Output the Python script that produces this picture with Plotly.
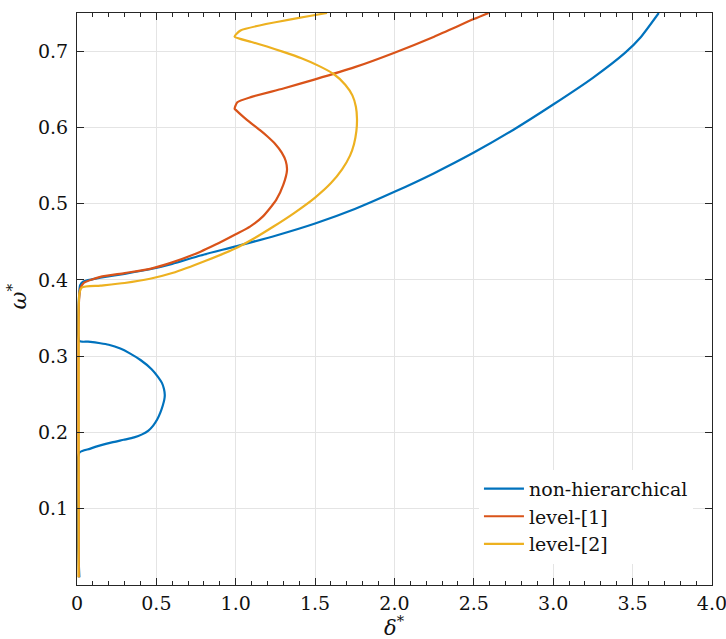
import plotly.graph_objects as go

# ---- data ----
blue_delta = [0.015, 0.015, 0.08, 0.147, 0.22, 0.294, 0.36, 0.41, 0.45, 0.48, 0.505, 0.525,
              0.54, 0.55, 0.553, 0.548, 0.535, 0.51, 0.47, 0.40, 0.33, 0.273, 0.2, 0.147, 0.07,
              0.015, 0.015, 0.02, 0.04, 0.1, 0.147, 0.3, 0.46, 0.6, 0.778, 1.0, 1.25, 1.5,
              1.75, 2.0, 2.25, 2.5, 2.75, 3.0, 3.25, 3.454, 3.55, 3.665]
blue_omega = [0.01, 0.1735, 0.1785, 0.183, 0.187, 0.1904, 0.1935, 0.1975, 0.2025, 0.209, 0.217,
              0.226, 0.235, 0.243, 0.249, 0.257, 0.265, 0.273, 0.283, 0.295, 0.304, 0.310, 0.315,
              0.317, 0.319, 0.320, 0.385, 0.393, 0.398, 0.401, 0.403, 0.408, 0.414, 0.421, 0.432,
              0.444, 0.458, 0.474, 0.493, 0.5155, 0.540, 0.567, 0.597, 0.630, 0.665, 0.698, 0.718,
              0.75]

orange_delta = [0.012, 0.012, 0.02, 0.042, 0.1, 0.147, 0.3, 0.46, 0.6, 0.778, 0.87, 1.0,
                1.09, 1.17, 1.255, 1.30, 1.323, 1.315, 1.29, 1.25, 1.2, 1.155, 1.1, 1.05, 1.0,
                0.993, 1.01, 1.10, 1.3, 1.5, 1.75, 2.0, 2.25, 2.5, 2.593]
orange_omega = [0.01, 0.37, 0.388, 0.396, 0.401, 0.404, 0.409, 0.4145, 0.423, 0.437, 0.446,
                0.460, 0.470, 0.483, 0.505, 0.525, 0.544, 0.556, 0.567, 0.578, 0.588, 0.596,
                0.605, 0.6135, 0.623, 0.6245, 0.633, 0.640, 0.651, 0.663, 0.679, 0.698, 0.719,
                0.742, 0.75]

yellow_delta = [0.01, 0.01, 0.015, 0.03, 0.147, 0.3, 0.46, 0.6, 0.815, 1.0, 1.12, 1.238,
                1.37, 1.5, 1.6, 1.67, 1.72, 1.745, 1.76, 1.764, 1.757, 1.735, 1.69, 1.617,
                1.52, 1.41, 1.3, 1.197, 1.1, 0.993, 1.03, 1.575]
yellow_omega = [0.01, 0.36, 0.382, 0.39, 0.3925, 0.396, 0.4015, 0.409, 0.4255, 0.4415, 0.455,
                0.470, 0.488, 0.508, 0.527, 0.545, 0.563, 0.578, 0.595, 0.611, 0.627, 0.642,
                0.656, 0.670, 0.681, 0.691, 0.699, 0.706, 0.712, 0.719, 0.727, 0.75]

series_names = ["non-hierarchical", "level-[1]", "level-[2]"]
series_colors = ["#0072BD", "#D95319", "#EDB120"]

x_tickvals = [0, 0.5, 1.0, 1.5, 2.0, 2.5, 3.0, 3.5, 4.0]
x_ticktext = ["0", "0.5", "1.0", "1.5", "2.0", "2.5", "3.0", "3.5", "4.0"]
y_tickvals = [0.1, 0.2, 0.3, 0.4, 0.5, 0.6, 0.7]
y_ticktext = ["0.1", "0.2", "0.3", "0.4", "0.5", "0.6", "0.7"]
x_title = "<i>δ</i><sup>*</sup>"
y_title = "<i>ω</i><sup>*</sup>"

FONT = "DejaVu Serif"
AX = "#262626"

fig = go.Figure()
for xs, ys, name, col in zip([blue_delta, orange_delta, yellow_delta],
                             [blue_omega, orange_omega, yellow_omega],
                             series_names, series_colors):
    fig.add_trace(go.Scatter(x=xs, y=ys, mode="lines", name=name,
                             line=dict(color=col, width=2.2, shape="spline", smoothing=0.6)))

fig.update_layout(
    width=726, height=639,
    margin=dict(l=77, r=14, t=13, b=54, autoexpand=False),
    paper_bgcolor="white", plot_bgcolor="white",
    font=dict(family=FONT, size=19, color="#111111"),
    showlegend=True,
    legend=dict(x=0.633, y=0.2016, xanchor="left", yanchor="top",
                bgcolor="white", borderwidth=0, itemwidth=40,
                font=dict(family=FONT, size=19, color="#111111"),
                tracegroupgap=0),
    annotations=[
        dict(text=x_title, xref="paper", yref="paper", x=0.5, y=-0.071,
             xanchor="center", yanchor="middle", showarrow=False,
             font=dict(family=FONT, size=21, color="#111111")),
        dict(text=y_title, xref="paper", yref="paper", x=-0.094, y=0.505,
             xanchor="center", yanchor="middle", showarrow=False, textangle=-90,
             font=dict(family=FONT, size=22, color="#111111")),
    ],
)
fig.update_xaxes(
    automargin=False,
    range=[0, 4.0005], tickvals=x_tickvals, ticktext=x_ticktext,
    ticks="inside", ticklen=7, tickcolor=AX, tickwidth=1,
    showline=True, linecolor=AX, linewidth=1, mirror="ticks",
    showgrid=True, gridcolor="#e4e4e4", gridwidth=1, zeroline=False,
    minor=dict(dtick=0.1, ticks="inside", ticklen=4, tickcolor=AX, showgrid=False),
    ticklabelstandoff=1, ticklabeloverflow="allow",
    tickfont=dict(family=FONT, size=19),
)
fig.update_yaxes(
    automargin=False,
    range=[0, 0.75], tickvals=y_tickvals, ticktext=y_ticktext,
    ticks="inside", ticklen=7, tickcolor=AX, tickwidth=1,
    showline=True, linecolor=AX, linewidth=1, mirror="ticks",
    showgrid=True, gridcolor="#e4e4e4", gridwidth=1, zeroline=False,
    ticklabelstandoff=4,
    tickfont=dict(family=FONT, size=19),
)

fig.write_html("out.html")
